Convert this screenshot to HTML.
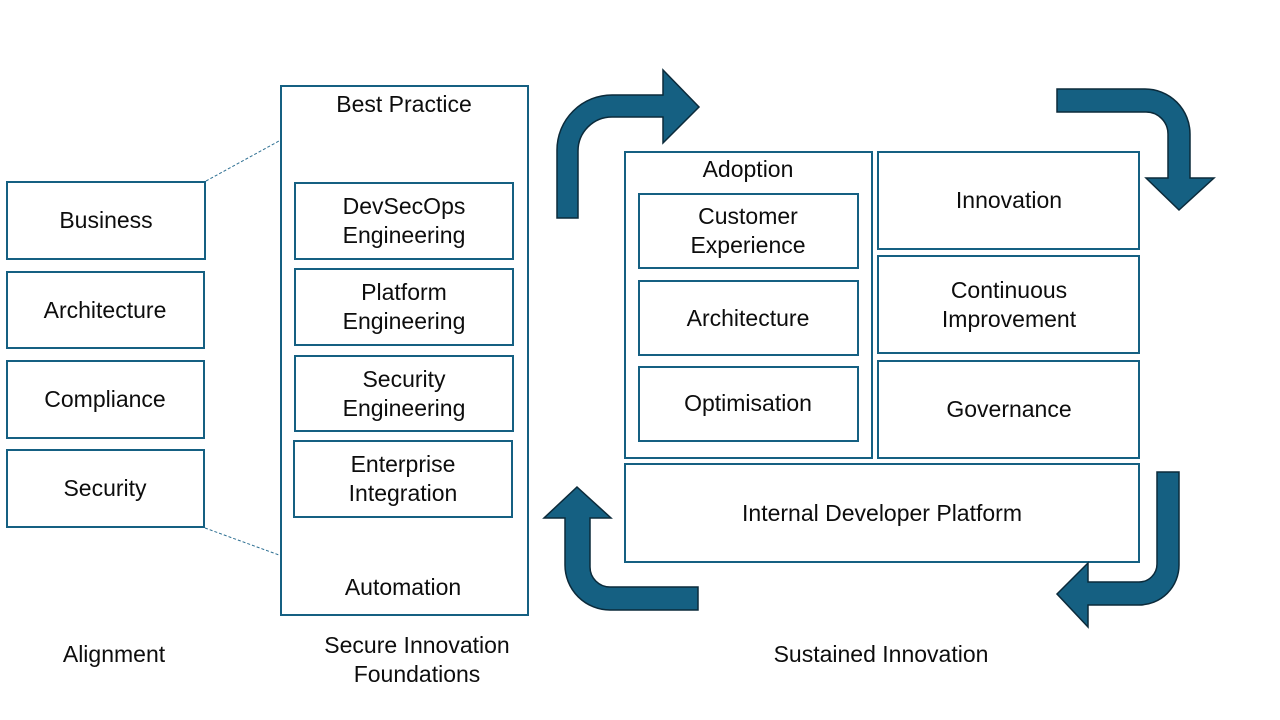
<!DOCTYPE html>
<html>
<head>
<meta charset="utf-8">
<style>
  html, body { margin: 0; padding: 0; background: #ffffff; }
  svg { display: block; }
  text { font-family: "Liberation Sans", Arial, sans-serif; font-size: 23px; fill: #0d0d0d; text-anchor: middle; }
</style>
</head>
<body>
<svg width="1280" height="720" viewBox="0 0 1280 720" xmlns="http://www.w3.org/2000/svg">
  <rect x="0" y="0" width="1280" height="720" fill="#ffffff"/>

  <!-- dashed connectors -->
  <line x1="206" y1="181" x2="279" y2="141" stroke="#2d6f92" stroke-width="1" stroke-dasharray="3,2"/>
  <line x1="205" y1="528" x2="279" y2="555" stroke="#2d6f92" stroke-width="1" stroke-dasharray="3,2"/>

  <g fill="none" stroke="#156082" stroke-width="2">
    <!-- Left column -->
    <rect x="7" y="182" width="198" height="77"/>
    <rect x="7" y="272" width="197" height="76"/>
    <rect x="7" y="361" width="197" height="77"/>
    <rect x="7" y="450" width="197" height="77"/>
    <!-- Middle column -->
    <rect x="281" y="86" width="247" height="529"/>
    <rect x="295" y="183" width="218" height="76"/>
    <rect x="295" y="269" width="218" height="76"/>
    <rect x="295" y="356" width="218" height="75"/>
    <rect x="294" y="441" width="218" height="76"/>
    <!-- Right section -->
    <rect x="625" y="152" width="247" height="306"/>
    <rect x="639" y="194" width="219" height="74"/>
    <rect x="639" y="281" width="219" height="74"/>
    <rect x="639" y="367" width="219" height="74"/>
    <rect x="878" y="152" width="261" height="97"/>
    <rect x="878" y="256" width="261" height="97"/>
    <rect x="878" y="361" width="261" height="97"/>
    <rect x="625" y="464" width="514" height="98"/>
  </g>

  <!-- Arrows -->
  <g fill="#156082" stroke="#0b2a3a" stroke-width="1.5" stroke-linejoin="miter">
    <path d="M557,218 L557,150 A55,55 0 0 1 612,95 L663,95 L663,70 L699,107 L663,143 L663,117 L612,117 A34,34 0 0 0 578,151 L578,218 Z"/>
    <path d="M1057,89 L1145,89 A45,45 0 0 1 1190,134 L1190,178 L1214,178 L1179,210 L1146,178 L1168,178 L1168,134 A22,22 0 0 0 1146,112 L1057,112 Z"/>
    <path d="M1157,472 L1179,472 L1179,565 A40,40 0 0 1 1139,605 L1088,605 L1088,627 L1057,594 L1088,563 L1088,582 L1139,582 A18,18 0 0 0 1157,564 Z"/>
    <path d="M577,487 L611,518 L590,518 L590,567 A20,20 0 0 0 610,587 L698,587 L698,610 L610,610 A45,45 0 0 1 565,565 L565,518 L544,518 Z"/>
  </g>

  <!-- Left labels -->
  <text x="106" y="228">Business</text>
  <text x="105" y="318">Architecture</text>
  <text x="105" y="407">Compliance</text>
  <text x="105" y="496">Security</text>

  <!-- Middle labels -->
  <text x="404" y="112">Best Practice</text>
  <text x="404" y="214">DevSecOps</text>
  <text x="404" y="243">Engineering</text>
  <text x="404" y="300">Platform</text>
  <text x="404" y="329">Engineering</text>
  <text x="404" y="387">Security</text>
  <text x="404" y="416">Engineering</text>
  <text x="403" y="472">Enterprise</text>
  <text x="403" y="501">Integration</text>
  <text x="403" y="595">Automation</text>

  <!-- Right labels -->
  <text x="748" y="177">Adoption</text>
  <text x="748" y="224">Customer</text>
  <text x="748" y="253">Experience</text>
  <text x="748" y="326">Architecture</text>
  <text x="748" y="411">Optimisation</text>
  <text x="1009" y="208">Innovation</text>
  <text x="1009" y="298">Continuous</text>
  <text x="1009" y="327">Improvement</text>
  <text x="1009" y="417">Governance</text>
  <text x="882" y="521">Internal Developer Platform</text>

  <!-- Bottom captions -->
  <text x="114" y="662">Alignment</text>
  <text x="417" y="653">Secure Innovation</text>
  <text x="417" y="682">Foundations</text>
  <text x="881" y="662">Sustained Innovation</text>
</svg>
</body>
</html>
